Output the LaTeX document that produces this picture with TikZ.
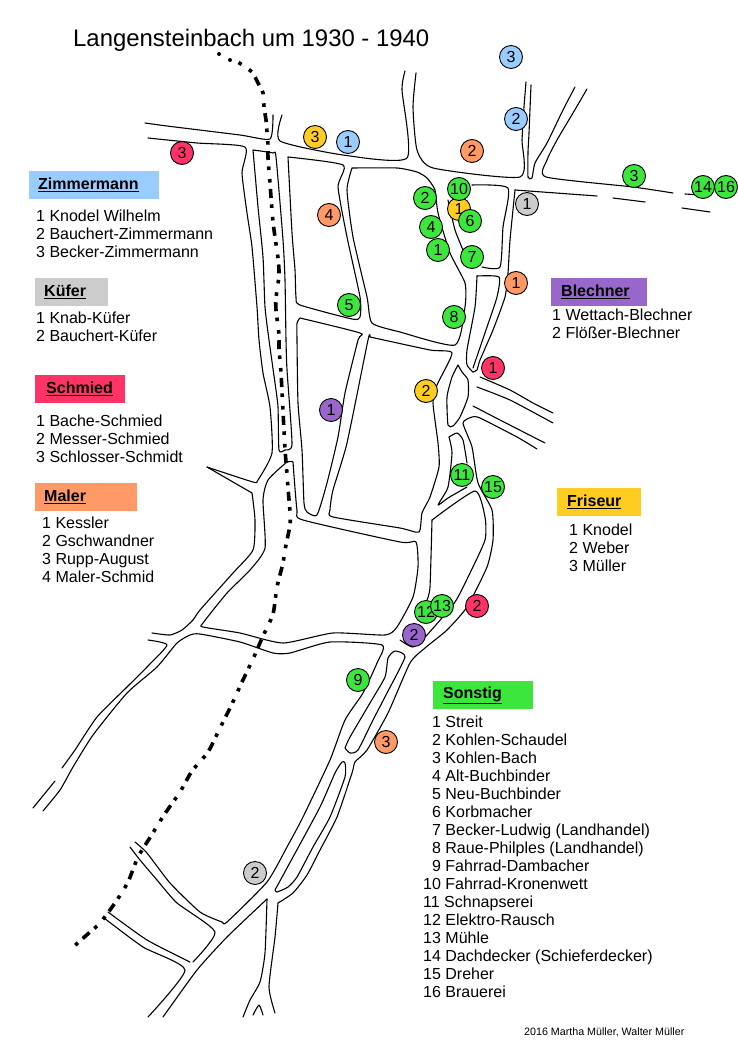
\documentclass[tikz,border=0pt]{standalone}
\usepackage{fontspec}
\setmainfont{Liberation Sans}
\definecolor{cblue}{HTML}{99CCFF}
\definecolor{cgreen}{HTML}{3CE63C}
\definecolor{cyellow}{HTML}{FFCC22}
\definecolor{ccrim}{HTML}{FF3366}
\definecolor{corange}{HTML}{FF9966}
\definecolor{cpurple}{HTML}{9966CC}
\definecolor{cgray}{HTML}{CCCCCC}
\newcommand{\Fs}{\rule{0pt}{12pt}}
\newcommand{\Ph}{\phantom{1}}
\newcommand{\Hd}[2]{\hspace*{#1}\raisebox{-1pt}{\underline{#2}}}
\tikzset{
  road/.style={draw=black,line width=1.1pt,line join=round,line cap=round},
  rail/.style={draw=black,line width=3.6pt,dash pattern=on 3.6pt off 9pt on 3.6pt off 6.4pt on 9pt off 6.4pt},
  spot/.style={circle,draw=black,line width=.9pt,minimum size=23pt,inner sep=0pt,font=\fontsize{16}{16}\selectfont},
  headbox/.style={rectangle,anchor=north west,minimum height=28pt,inner ysep=0pt,inner xsep=0pt,align=left,font=\fontsize{16}{18}\selectfont\bfseries},
  listing/.style={anchor=north west,inner sep=0pt,yshift=.7pt,align=left,font=\fontsize{16}{18}\selectfont},
}
\newcommand{\rd}[1]{\draw[road] plot[smooth,tension=.35] coordinates {#1};}
\begin{document}
\begin{tikzpicture}[x=1pt,y=-1pt]
\useasboundingbox (0,0) rectangle (738,1059);
% --- roads ---
\rd{(145,123)(167,126)(240,135)(270,139)(273,115)}
\rd{(148,138)(197,143)(245,147)(242,173)(247,213)(252,247)(257,307)(259,340)(263,373)(270,407)(272,453)(258,480)(253,482)(207,467)}
\rd{(253,150)(258,207)(263,257)(265,307)(269,340)(275,383)(278,407)(279,450)(285,450)(292,444)(287,370)(286,340)(285,280)(283,240)(276,157)(273,153)(253,150)}
\rd{(282,115)(280,141)(343,155)(407,158)(402,90)(405,71)}
\rd{(416,73)(413,107)(417,150)(433,168)(520,177)(522,140)(524,107)(526,82)}
\rd{(531,85)(529,133)(528,152)(528,177)(532,178)(535,163)(547,143)(563,110)(575,87)}
\rd{(587,89)(573,113)(557,140)(547,160)(546,177)(633,187)(673,193)}
\rd{(685,194)(700,195)}
\rd{(515,190)(597,196)}
\rd{(613,198)(645,202)}
\rd{(682,208)(710,212)}
\rd{(472,185)(508,188)(503,227)(500,267)(482,267)}
\rd{(515,190)(510,240)(508,273)(505,297)(493,330)(480,360)(477,370)(473,372)}
\rd{(477,276)(499,277)(497,297)(487,327)(473,368)}
\rd{(477,276)(475,307)(467,350)(467,365)(473,372)}
\rd{(352,168)(397,168)(417,172)(427,178)(435,190)(438,213)(450,253)(465,283)(465,307)(455,345)(400,332)(372,323)(367,297)(353,237)(347,190)(352,168)}
\rd{(448,200)(455,230)(463,250)}
\rd{(288,157)(343,165)(338,187)(347,237)(360,297)(360,317)(352,319)(300,305)(296,297)(295,270)(292,233)(288,157)}
\rd{(300,318)(360,333)(358,340)(345,393)(338,437)(327,483)(317,515)(307,512)(304,503)(302,450)(298,403)(297,340)(297,323)(300,318)}
\rd{(370,337)(430,350)(452,353)(437,385)(433,403)(438,443)(439,467)(430,497)(422,513)(419,532)(400,528)(333,517)(330,510)(333,490)(347,443)(368,340)(370,337)}
% south-west part
\rd{(293,462)(287,462)(268,480)(263,500)(265,548)(250,570)(227,593)(203,623)(203,627)(240,633)(283,643)(333,633)(385,635)(397,627)(413,597)(418,567)(416,542)(400,542)(303,520)(297,510)(293,462)}
\rd{(252,493)(255,520)(253,550)(233,573)(200,610)(193,620)(182,630)(170,635)(152,633)}
\rd{(207,467)(252,493)}
\rd{(148,640)(167,645)(147,667)(127,687)(97,717)(75,750)(62,768)}
\rd{(55,781)(33,808)}
\rd{(43,811)(60,790)(73,767)(93,735)(127,693)(157,667)(177,643)(190,635)(200,634)(240,642)(273,653)(290,653)(330,642)(382,645)(377,663)(363,693)(345,720)(330,760)(303,817)(287,847)(267,882)(227,922)(222,922)(200,912)(170,883)(147,853)(135,842)}
\rd{(130,847)(140,860)(157,880)(177,903)(215,932)(193,962)}
\rd{(108,912)(147,940)(190,962)}
\rd{(104,918)(143,947)(185,970)(148,1017)}
\rd{(267,899)(227,937)(197,970)(163,1017)}
\rd{(267,899)(265,953)(260,982)(250,1000)(243,1017)}
\rd{(278,903)(275,937)(269,987)(275,1013)}
\rd{(253,1015)(259,1005)(263,1015)}
\rd{(275,890)(293,857)(320,807)(335,773)(342,762)(345,763)(345,777)(330,817)(313,847)(297,877)(288,887)(277,892)(275,890)}
\rd{(278,903)(293,893)(307,875)(320,850)(337,817)(352,773)(355,762)(367,750)(388,713)(410,663)(425,648)(447,630)(467,607)(487,567)(493,540)(492,510)(478,483)(472,447)(463,423)(472,417)(480,418)(517,437)(537,449)}
\rd{(345,748)(350,753)(358,750)(373,720)(387,693)(405,657)(395,651)(388,658)(385,677)(370,703)(350,737)(345,748)}
\rd{(432,520)(475,491)(485,517)(485,540)(470,573)(455,602)(427,635)(413,647)(400,640)}
\rd{(432,520)(430,587)(427,600)}
\rd{(473,406)(500,420)(545,443)}
\rd{(477,387)(510,400)(553,423)}
\rd{(480,377)(510,390)(533,403)(553,413)}
\rd{(458,365)(462,372)(468,380)(468,397)(460,417)(453,426)(448,425)(447,397)(452,377)(458,365)}
\rd{(449,437)(457,433)(463,440)(467,463)}
\rd{(449,437)(452,453)(448,487)(438,505)(448,498)(467,487)}
% --- railway ---
\fill (219,54) circle (2pt) (230,60) circle (2pt);
\draw[rail] plot[smooth,tension=.4] coordinates {(238.5,62.5)(252,72)(258,83)(263,93)(264,107)(266,120)(267,132)(268,145)(268,158)(270,183)(273,222)(278,258)(279,275)(276,298)(276,310)(279,335)(279,348)(281,373)(283,411)(285,449)(287,474)(288,488)(290,512)(290,525)(285,550)(283,563)(277,587)(273,614)(263,636)(253,659)(242,682)(231,706)(220,728)(208,752)(192,771)(180,792)(164,815)(151,836)(138,857)(128,882)(115,903)(100,923)(90,932)(72,948)};
% --- title ---
\node[anchor=base west,inner sep=0pt,font=\fontsize{23.9}{26}\selectfont] (title) at (73,47) {Langensteinbach um 1930 - 1940};
% --- spots ---
\node[spot,fill=cblue] (b3) at (511,57) {3};
\node[spot,fill=cblue] (b2) at (516,119) {2};
\node[spot,fill=cblue] (b1) at (348,142) {1};
\node[spot,fill=cyellow] (y3) at (315,137) {3};
\node[spot,fill=cyellow] (y1) at (459,209) {1};
\node[spot,fill=cyellow] (y2) at (426,391) {2};
\node[spot,fill=ccrim] (r3) at (182,153) {3};
\node[spot,fill=ccrim] (r1) at (493,368) {1};
\node[spot,fill=ccrim] (r2) at (477,606) {2};
\node[spot,fill=corange] (o2) at (472,151) {2};
\node[spot,fill=corange] (o4) at (329,215) {4};
\node[spot,fill=corange] (o1) at (516,283) {1};
\node[spot,fill=corange] (o3) at (386,742) {3};
\node[spot,fill=cgreen] (g2) at (425,198) {2};
\node[spot,fill=cgreen] (g10) at (459,189) {10};
\node[spot,fill=cgreen] (g6) at (470,221) {6};
\node[spot,fill=cgreen] (g4) at (431,227) {4};
\node[spot,fill=cgreen] (g1) at (438,250) {1};
\node[spot,fill=cgreen] (g7) at (472,257) {7};
\node[spot,fill=cgreen] (g5) at (349,305) {5};
\node[spot,fill=cgreen] (g8) at (454,317) {8};
\node[spot,fill=cgreen] (g11) at (462,475) {11};
\node[spot,fill=cgreen] (g15) at (493,487) {15};
\node[spot,fill=cgreen] (g12) at (426,612) {12};
\node[spot,fill=cgreen] (g13) at (442,606) {13};
\node[spot,fill=cgreen] (g9) at (358,680) {9};
\node[spot,fill=cgreen] (g3) at (634,176) {3};
\node[spot,fill=cgreen] (g14) at (703,187) {14};
\node[spot,fill=cgreen] (g16) at (726,187) {16};
\node[spot,fill=cgray] (k1) at (527,204) {1};
\node[spot,fill=cgray] (k2) at (255,873) {2};
\node[spot,fill=cpurple] (p1) at (331,410) {1};
\node[spot,fill=cpurple] (p2) at (414,635) {2};
% --- legends ---
\node[headbox,fill=cblue,minimum width=130pt,text width=130pt] (hz) at (29,171) {\Hd{9pt}{Zimmermann}};
\node[listing] (lz) at (36,210) {\Fs 1 Knodel Wilhelm\\2 Bauchert-Zimmermann\\3 Becker-Zimmermann};
\node[headbox,fill=cgray,minimum width=73pt,text width=73pt] (hk) at (35,278) {\Hd{9pt}{Küfer}};
\node[listing] (lk) at (36,312) {\Fs 1 Knab-Küfer\\2 Bauchert-Küfer};
\node[headbox,fill=ccrim,minimum width=90pt,text width=90pt] (hs) at (35,375) {\Hd{11pt}{Schmied}};
\node[listing] (ls) at (36,415) {\Fs 1 Bache-Schmied\\2 Messer-Schmied\\3 Schlosser-Schmidt};
\node[headbox,fill=corange,minimum width=102pt,text width=102pt] (hm) at (35,483) {\Hd{9pt}{Maler}};
\node[listing] (lm) at (42,517) {\Fs 1 Kessler\\2 Gschwandner\\3 Rupp-August\\4 Maler-Schmid};
\node[headbox,fill=cpurple,minimum width=96pt,text width=96pt] (hb) at (551,278) {\Hd{10pt}{Blechner}};
\node[listing] (lb) at (552,309) {\Fs 1 Wettach-Blechner\\2 Flößer-Blechner};
\node[headbox,fill=cyellow,minimum width=84pt,text width=84pt] (hf) at (557,488) {\Hd{10pt}{Friseur}};
\node[listing] (lf) at (569,524) {\Fs 1 Knodel\\2 Weber\\3 Müller};
\node[headbox,fill=cgreen,minimum width=100pt,text width=100pt] (ho) at (433,681) {\Hd{10pt}{Sonstig}};
\node[listing] (lo) at (423,716) {\Fs\Ph 1 Streit\\\Ph 2 Kohlen-Schaudel\\\Ph 3 Kohlen-Bach\\\Ph 4 Alt-Buchbinder\\\Ph 5 Neu-Buchbinder\\\Ph 6 Korbmacher\\\Ph 7 Becker-Ludwig (Landhandel)\\\Ph 8 Raue-Philples (Landhandel)\\\Ph 9 Fahrrad-Dambacher\\10 Fahrrad-Kronenwett\\11 Schnapserei\\12 Elektro-Rausch\\13 Mühle\\14 Dachdecker (Schieferdecker)\\15 Dreher\\16 Brauerei};
\node[anchor=base west,inner sep=0pt,font=\fontsize{10.7}{12}\selectfont] (foot) at (524,1035) {2016 Martha Müller, Walter Müller};
\end{tikzpicture}
\end{document}
